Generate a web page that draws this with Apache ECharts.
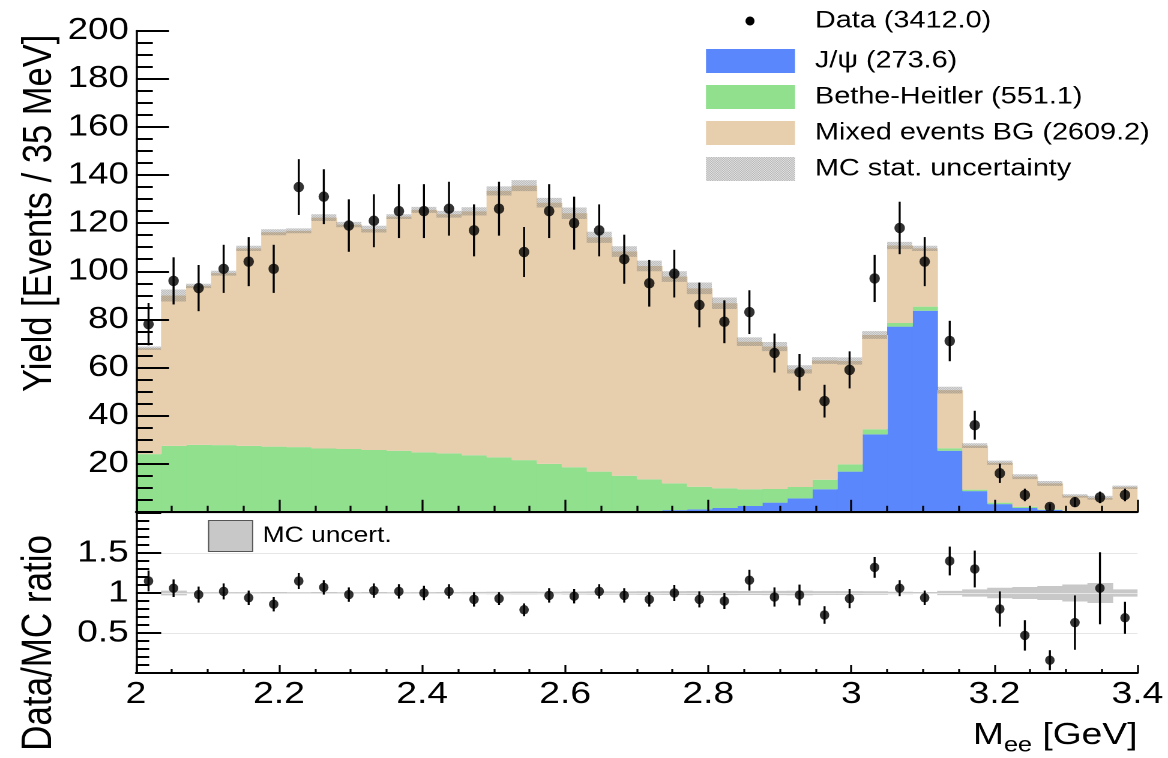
<!DOCTYPE html>
<html>
<head>
<meta charset="utf-8">
<script src="https://cdn.jsdelivr.net/npm/echarts@6/dist/echarts.min.js"></script>
<style>
html,body{margin:0;padding:0;background:#fff;overflow:hidden;width:1168px;height:758px;}
#chart{width:973px;height:758px;transform:scaleX(1.20041);transform-origin:0 0;}
</style>
</head>
<body>
<div id="chart"></div>
<script>
// ---------------- data ----------------
const binEdges = [2.000,2.035,2.070,2.105,2.140,2.175,2.210,2.245,2.280,2.315,2.350,2.385,2.420,2.455,2.490,2.525,2.560,2.595,2.630,2.665,2.700,2.735,2.770,2.805,2.840,2.875,2.910,2.945,2.980,3.015,3.050,3.085,3.120,3.155,3.190,3.225,3.260,3.295,3.330,3.365,3.400];
const xTicks = [2, 2.2, 2.4, 2.6, 2.8, 3, 3.2, 3.4];
const dataCounts = [78,96,93,101,104,101,135,131,119,121,125,125,126,117,126,108,125,120,117,105,95,99,86,79,83,66,58,46,59,97,118,104,71,36,16,7,2,4,6,7];
const dataErr = [8.8,9.8,9.6,10.0,10.2,10.0,11.6,11.4,10.9,11.0,11.2,11.2,11.2,10.8,11.2,10.4,11.2,11.0,10.8,10.2,9.7,9.9,9.3,8.9,9.1,8.1,7.6,6.8,7.7,9.8,10.9,10.2,8.4,6.0,4.0,2.6,1.4,2.0,2.4,2.6];
const jpsi = [0,0,0,0,0,0,0,0,0,0,0,0,0,0,0,0,0,0,0,0,0.2,0.7,1.0,1.6,2.4,3.8,5.6,9.4,16.7,32.2,77.0,83.6,25.4,8.6,3.2,1.6,0.8,0.3,0.1,0.1];
const betheHeitler = [24.0,27.4,27.8,27.7,27.4,27.1,26.9,26.3,26.1,25.7,25.4,24.7,24.3,23.5,22.6,21.5,19.9,18.5,16.7,15.0,13.3,11.1,9.4,8.2,7.0,5.7,4.7,3.9,3.0,2.1,1.5,1.7,1.0,0.6,0.6,0.5,0.2,0.1,0.1,0.1];
const mixedBG = [44.0,62.5,66.1,71.5,82.1,89.1,89.9,96.0,93.3,91.8,97.3,100.8,99.4,101.4,110.8,114.1,108.6,105.6,97.4,93.2,88.7,86.0,82.5,76.9,61.3,59.2,48.9,49.6,43.0,39.2,32.2,24.2,24.2,18.3,16.6,12.5,10.8,6.2,5.6,10.0];
const mcStatErr = [0.7,2.5,0.9,1.0,1.1,1.25,1.0,1.4,1.1,1.4,1.0,1.25,1.4,1.7,1.9,2.3,2.0,2.4,2.3,2.2,2.2,2.2,2.4,2.4,1.8,1.9,1.7,1.4,1.5,1.6,1.5,1.1,1.4,1.0,0.9,1.0,1.0,0.7,0.8,0.7];
const ratioVals = [1.15,1.06,0.98,1.02,0.94,0.86,1.15,1.07,0.98,1.03,1.02,1.00,1.02,0.92,0.93,0.79,0.97,0.96,1.02,0.97,0.92,1.00,0.92,0.90,1.16,0.95,0.975,0.725,0.93,1.32,1.06,0.94,1.40,1.30,0.80,0.47,0.16,0.63,1.06,0.69];
const ratioErr = [0.13,0.11,0.10,0.10,0.09,0.09,0.10,0.09,0.09,0.09,0.09,0.09,0.09,0.09,0.08,0.08,0.09,0.09,0.09,0.09,0.09,0.10,0.10,0.10,0.13,0.12,0.13,0.11,0.12,0.13,0.10,0.09,0.18,0.23,0.22,0.19,0.125,0.34,0.45,0.20];
const ratioBand = [0.012,0.030,0.010,0.011,0.011,0.012,0.010,0.012,0.010,0.012,0.010,0.011,0.012,0.014,0.015,0.017,0.016,0.019,0.020,0.020,0.022,0.023,0.025,0.027,0.025,0.027,0.028,0.023,0.024,0.022,0.015,0.012,0.027,0.046,0.065,0.075,0.087,0.106,0.125,0.046];
const names = {
  data: 'Data (3412.0)',
  jpsi: 'J/\u03c8 (273.6)',
  bh: 'Bethe-Heitler (551.1)',
  mixed: 'Mixed events BG (2609.2)',
  mcstat: 'MC stat. uncertainty',
  mcunc: 'MC uncert.'
};
// -------------------------------------------------------------------------

const S = 1168 / 973;            // horizontal stretch of the whole picture
const sx = v => v / S;
const FONT = "'Liberation Sans', Arial, Helvetica, sans-serif";
const nBins = dataCounts.length;
const centers = binEdges.slice(0, -1).map((e, i) => (e + binEdges[i + 1]) / 2);

const lvlJ = jpsi.slice();
const lvlG = jpsi.map((v, i) => v + betheHeitler[i]);
const lvlT = lvlG.map((v, i) => v + mixedBG[i]);

function rectData(lo, hi) {
  return centers.map((c, i) => [binEdges[i], binEdges[i + 1], lo[i], hi[i]]);
}
function makeRect(fill, extend) {
  return function (params, api) {
    const a = api.coord([api.value(0), api.value(2)]);
    const b = api.coord([api.value(1), api.value(3)]);
    const w = b[0] - a[0] + (extend && params.dataIndex < nBins - 1 ? 0.6 : 0);
    return { type: 'rect', shape: { x: a[0], y: b[1], width: w, height: a[1] - b[1] }, style: { fill: fill } };
  };
}
function errBar(params, api) {
  const x = api.value(0), y = api.value(1), e = api.value(2);
  const a = api.coord([x, y - e]), b = api.coord([x, y + e]);
  return { type: 'line', shape: { x1: a[0], y1: a[1], x2: b[0], y2: b[1] }, style: { stroke: '#000', lineWidth: 1.7 } };
}

// hatch pattern for the MC stat. uncertainty
const pc = document.createElement('canvas');
pc.width = 4; pc.height = 4;
const pctx = pc.getContext('2d');
pctx.fillStyle = 'rgba(115,115,115,0.72)';
for (let y = 0; y < 4; y++) for (let x = 0; x < 4; x++) if ((x + y) % 2 === 0) pctx.fillRect(x, y, 1, 1);
const hatch = { image: pc, repeat: 'repeat' };

const cBlue = '#5a87fb', cGreen = '#90e08e', cTan = '#e7cfae';

const upperLo = lvlT.map((v, i) => v - mcStatErr[i]);
const upperHi = lvlT.map((v, i) => v + mcStatErr[i]);
const zeros = centers.map(() => 0);
const ones = centers.map(() => 1);

const chart = echarts.init(document.getElementById('chart'), null, { devicePixelRatio: 2, renderer: 'canvas' });

const gridLeft = sx(136), gridWidth = sx(1001.5);

const option = {
  animation: false,
  backgroundColor: '#fff',
  textStyle: { fontFamily: FONT },
  grid: [
    { left: gridLeft, width: gridWidth, top: 30.7, height: 481.1, outerBoundsMode: 'none', containLabel: false },
    { left: gridLeft, width: gridWidth, top: 513, height: 160, outerBoundsMode: 'none', containLabel: false }
  ],
  xAxis: [
    {
      gridIndex: 0, type: 'value', min: xTicks[0], max: xTicks[xTicks.length - 1], interval: 0.2, z: 3,
      axisLine: { show: true, onZero: false, lineStyle: { color: '#000', width: 2 } },
      axisTick: { show: true, inside: true, length: 12, lineStyle: { color: '#000', width: 1.6 } },
      minorTick: { show: true, splitNumber: 4, length: 6, lineStyle: { color: '#000', width: 1.6 } },
      axisLabel: { show: false }, splitLine: { show: false }, minorSplitLine: { show: false }
    },
    {
      gridIndex: 1, type: 'value', min: xTicks[0], max: xTicks[xTicks.length - 1], interval: 0.2, z: 3,
      axisLine: { show: true, onZero: false, lineStyle: { color: '#000', width: 2 } },
      axisTick: { show: true, inside: true, length: 8, lineStyle: { color: '#000', width: 1.6 } },
      minorTick: { show: true, splitNumber: 4, length: 4, lineStyle: { color: '#000', width: 1.6 } },
      axisLabel: { show: true, color: '#000', fontSize: 31, fontFamily: FONT, margin: 6, showMinLabel: true, showMaxLabel: true },
      splitLine: { show: false },
      name: '{m|M}{s|ee}{m| [GeV]}', nameLocation: 'end', nameGap: 0,
      nameTextStyle: {
        align: 'right', verticalAlign: 'top', padding: [47, 0, 0, 0],
        rich: {
          m: { fontSize: 31, fontFamily: FONT, color: '#000', lineHeight: 31, verticalAlign: 'top' },
          s: { fontSize: 21, fontFamily: FONT, color: '#000', lineHeight: 21, verticalAlign: 'top', padding: [15, 0, 0, 0] }
        }
      }
    }
  ],
  yAxis: [
    {
      gridIndex: 0, type: 'value', min: 0, max: 200, interval: 20, z: 3,
      axisLine: { show: true, onZero: false, lineStyle: { color: '#000', width: 1.7 } },
      axisTick: { show: true, inside: true, length: 27.5, lineStyle: { color: '#000', width: 2 } },
      minorTick: { show: true, splitNumber: 4, length: 14, lineStyle: { color: '#000', width: 2 } },
      axisLabel: { color: '#000', fontSize: 30.5, fontFamily: FONT, margin: 6, formatter: v => (v === 0 ? '' : String(v)) },
      splitLine: { show: false },
      name: 'Yield [Events / 35 MeV]', nameLocation: 'end', nameGap: -4, nameRotate: 90,
      nameTextStyle: { color: '#000', fontSize: 34.5, fontFamily: FONT, align: 'right', verticalAlign: 'bottom', padding: [0, 0, 63, 0] }
    },
    {
      gridIndex: 1, type: 'value', min: 0, max: 2, interval: 0.5, z: 3,
      axisLine: { show: true, onZero: false, lineStyle: { color: '#000', width: 1.7 } },
      axisTick: { show: true, inside: true, length: 21, lineStyle: { color: '#000', width: 2 } },
      minorTick: { show: true, splitNumber: 5, length: 11, lineStyle: { color: '#000', width: 2 } },
      axisLabel: { color: '#000', fontSize: 31, fontFamily: FONT, margin: 6, formatter: v => ((v === 0 || v === 2) ? '' : String(v)) },
      splitLine: { show: true, lineStyle: { color: '#e6e6e6', width: 1 } },
      name: 'Data/MC ratio', nameLocation: 'end', nameGap: -22, nameRotate: 90,
      nameTextStyle: { color: '#000', fontSize: 35, fontFamily: FONT, align: 'right', verticalAlign: 'bottom', padding: [0, 0, 63, 0] }
    }
  ],
  legend: [
    {
      data: [names.jpsi, names.bh, names.mixed, names.mcstat],
      orient: 'vertical', left: sx(706), top: 49, padding: 0, itemWidth: sx(89), itemHeight: 24, itemGap: 12,
      icon: 'rect', selectedMode: false,
      itemStyle: { borderWidth: 0 },
      textStyle: { color: '#000', fontSize: 24, fontFamily: FONT, padding: [0, 0, 0, sx(20) - 5] }
    },
    {
      data: [names.mcunc],
      orient: 'vertical', left: sx(208), top: 520, padding: 0, itemWidth: sx(44), itemHeight: 31,
      icon: 'rect', selectedMode: false,
      itemStyle: { borderColor: '#555', borderWidth: 1 },
      textStyle: { color: '#000', fontSize: 22, fontFamily: FONT, padding: [0, 0, 0, sx(10) - 5] }
    }
  ],
  graphic: [
    { type: 'ellipse', shape: { cx: sx(750), cy: 21, rx: sx(4.5), ry: 4.5 }, style: { fill: '#000' }, z: 10 },
    { type: 'text', x: sx(815), y: 21, style: { text: names.data, fill: '#000', font: '24px ' + FONT, textVerticalAlign: 'middle', textAlign: 'left' }, z: 10 }
  ],
  series: [
    { name: names.jpsi, type: 'custom', xAxisIndex: 0, yAxisIndex: 0, z: 1, itemStyle: { color: cBlue },
      dimensions: ['x0', 'x1', 'y0', 'y1'], encode: { x: [0, 1], y: [2, 3] },
      renderItem: makeRect(cBlue, true), data: rectData(zeros, lvlJ) },
    { name: names.bh, type: 'custom', xAxisIndex: 0, yAxisIndex: 0, z: 1, itemStyle: { color: cGreen },
      dimensions: ['x0', 'x1', 'y0', 'y1'], encode: { x: [0, 1], y: [2, 3] },
      renderItem: makeRect(cGreen, true), data: rectData(lvlJ, lvlG) },
    { name: names.mixed, type: 'custom', xAxisIndex: 0, yAxisIndex: 0, z: 1, itemStyle: { color: cTan },
      dimensions: ['x0', 'x1', 'y0', 'y1'], encode: { x: [0, 1], y: [2, 3] },
      renderItem: makeRect(cTan, true), data: rectData(lvlG, lvlT) },
    { name: names.mcstat, type: 'custom', xAxisIndex: 0, yAxisIndex: 0, z: 2, itemStyle: { color: hatch },
      dimensions: ['x0', 'x1', 'y0', 'y1'], encode: { x: [0, 1], y: [2, 3] },
      renderItem: makeRect(hatch, false), data: rectData(upperLo, upperHi) },
    { name: 'Data err', type: 'custom', xAxisIndex: 0, yAxisIndex: 0, z: 5,
      renderItem: errBar, encode: { x: 0, y: 1 },
      data: centers.map((c, i) => [c, dataCounts[i], dataErr[i]]) },
    { name: names.data, type: 'scatter', xAxisIndex: 0, yAxisIndex: 0, z: 6,
      symbol: 'circle', symbolSize: [sx(10.5), 10.5], itemStyle: { color: '#000' },
      data: centers.map((c, i) => [c, dataCounts[i]]) },

    { name: names.mcunc, type: 'custom', xAxisIndex: 1, yAxisIndex: 1, z: 2, itemStyle: { color: '#c8c8c8' },
      dimensions: ['x0', 'x1', 'y0', 'y1'], encode: { x: [0, 1], y: [2, 3] },
      renderItem: makeRect('#c8c8c8', true),
      data: rectData(ones.map((v, i) => v - ratioBand[i]), ones.map((v, i) => v + ratioBand[i])) },
    { name: 'Ratio err', type: 'custom', xAxisIndex: 1, yAxisIndex: 1, z: 5,
      renderItem: errBar, encode: { x: 0, y: 1 },
      data: centers.map((c, i) => [c, ratioVals[i], ratioErr[i]]) },
    { name: 'Ratio', type: 'scatter', xAxisIndex: 1, yAxisIndex: 1, z: 6,
      symbol: 'circle', symbolSize: [sx(9.5), 9.5], itemStyle: { color: '#000' },
      data: centers.map((c, i) => [c, ratioVals[i]]) }
  ]
};
chart.setOption(option);
</script>
</body>
</html>
